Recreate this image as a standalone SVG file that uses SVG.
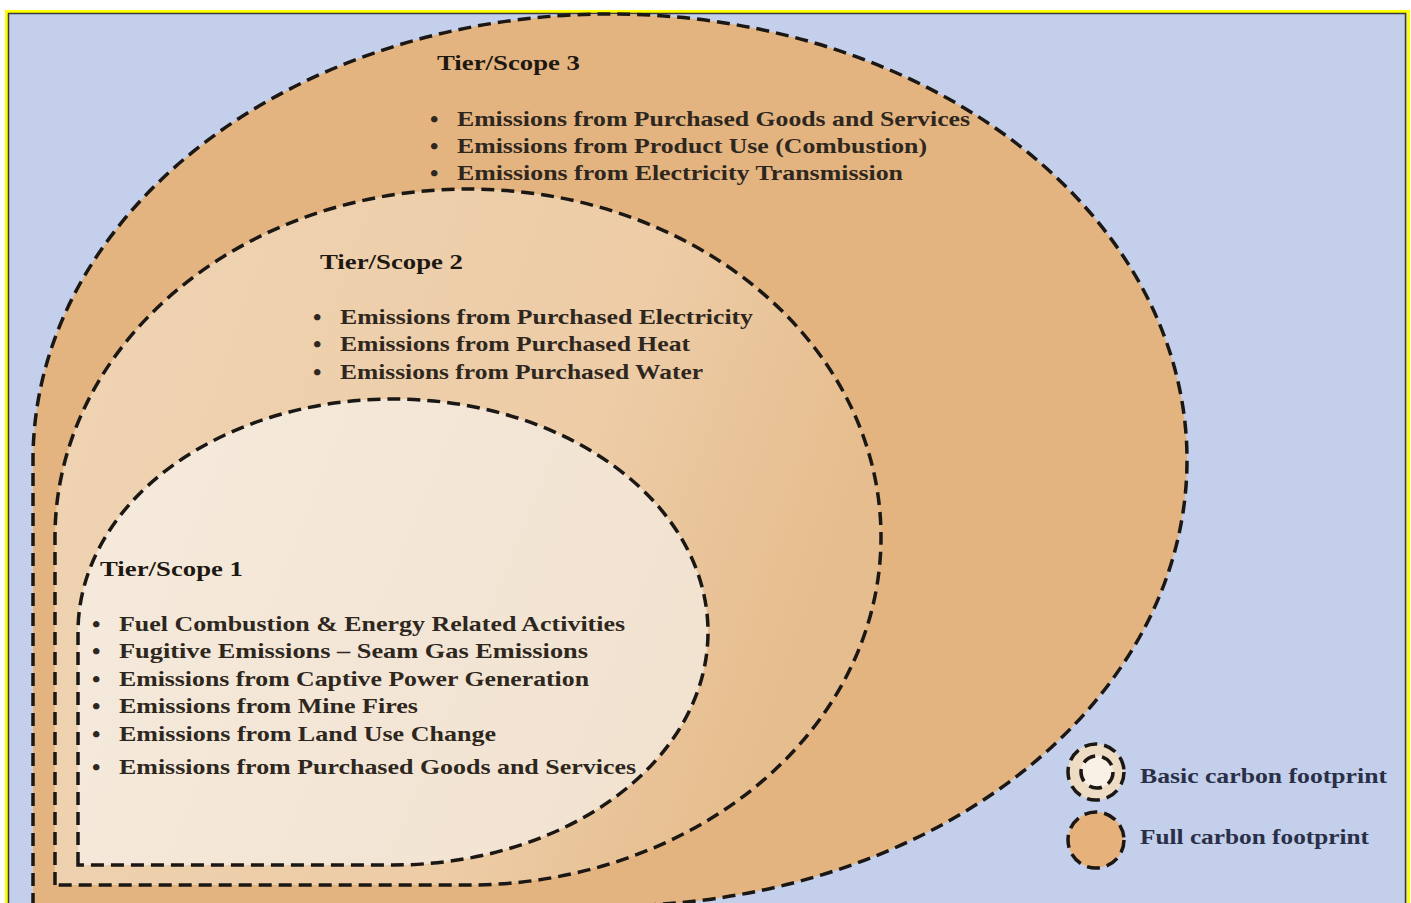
<svg xmlns="http://www.w3.org/2000/svg" width="1411" height="903" viewBox="0 0 1411 903">
<style>
.ring{stroke:#1a1714;stroke-width:3.5;stroke-dasharray:13 7;}
.t{font-family:"Liberation Serif","Times New Roman",serif;font-size:21px;fill:#2e2720;font-weight:bold;}
.h{font-family:"Liberation Serif","Times New Roman",serif;font-size:20px;fill:#1e1812;font-weight:bold;}
.b{font-family:"Liberation Serif","Times New Roman",serif;font-size:24px;fill:#2e2720;font-weight:bold;}
.lg{font-family:"Liberation Serif","Times New Roman",serif;font-size:21px;fill:#2a2f48;font-weight:bold;}
</style>
<defs>
<linearGradient id="g2" x1="0" y1="0" x2="1" y2="0.3">
<stop offset="0" stop-color="#EFD4B4"/>
<stop offset="0.7" stop-color="#EDCCA6"/>
<stop offset="1" stop-color="#E6BD8E"/>
</linearGradient>
<linearGradient id="g1" x1="0" y1="0" x2="1" y2="0.3">
<stop offset="0" stop-color="#F5EADD"/>
<stop offset="1" stop-color="#F2E3D1"/>
</linearGradient>
</defs>
<rect x="6.5" y="11.5" width="1402" height="900" fill="#C4CFEB" stroke="#FFFF00" stroke-width="3"/>
<rect x="8.5" y="13.5" width="1397" height="895" fill="none" stroke="#3a3a3a" stroke-width="1.5"/>

<g id="scope3">
<path class="ring" d="M33,906 L33,460 A577 446 0 1 1 610,906 Z" fill="#E3B47F"/>
<text class="h" x="437" y="70" textLength="143" lengthAdjust="spacingAndGlyphs">Tier/Scope 3</text>
<text class="b" x="430" y="127">•</text>
<text class="b" x="430" y="154">•</text>
<text class="b" x="430" y="181">•</text>
<text class="t" x="457" y="126" textLength="513" lengthAdjust="spacingAndGlyphs">Emissions from Purchased Goods and Services</text>
<text class="t" x="457" y="153" textLength="470" lengthAdjust="spacingAndGlyphs">Emissions from Product Use (Combustion)</text>
<text class="t" x="457" y="180" textLength="446" lengthAdjust="spacingAndGlyphs">Emissions from Electricity Transmission</text>
</g>

<g id="scope2">
<path class="ring" d="M55,885 L55,537 A413 348 0 1 1 468,885 Z" fill="url(#g2)"/>
<text class="h" x="320" y="269" textLength="143" lengthAdjust="spacingAndGlyphs">Tier/Scope 2</text>
<text class="b" x="313" y="325">•</text>
<text class="b" x="313" y="352">•</text>
<text class="b" x="313" y="380">•</text>
<text class="t" x="340" y="324" textLength="413" lengthAdjust="spacingAndGlyphs">Emissions from Purchased Electricity</text>
<text class="t" x="340" y="351" textLength="350" lengthAdjust="spacingAndGlyphs">Emissions from Purchased Heat</text>
<text class="t" x="340" y="379" textLength="363" lengthAdjust="spacingAndGlyphs">Emissions from Purchased Water</text>
</g>

<g id="scope1">
<path class="ring" d="M78,865 L78,632 A315 233 0 1 1 393,865 Z" fill="url(#g1)"/>
<text class="h" x="100" y="576" textLength="143" lengthAdjust="spacingAndGlyphs">Tier/Scope 1</text>
<text class="b" x="92" y="632">•</text>
<text class="b" x="92" y="659">•</text>
<text class="b" x="92" y="687">•</text>
<text class="b" x="92" y="714">•</text>
<text class="b" x="92" y="742">•</text>
<text class="b" x="92" y="775">•</text>
<text class="t" x="119" y="631" textLength="506" lengthAdjust="spacingAndGlyphs">Fuel Combustion &amp; Energy Related Activities</text>
<text class="t" x="119" y="658" textLength="469" lengthAdjust="spacingAndGlyphs">Fugitive Emissions – Seam Gas Emissions</text>
<text class="t" x="119" y="686" textLength="470" lengthAdjust="spacingAndGlyphs">Emissions from Captive Power Generation</text>
<text class="t" x="119" y="713" textLength="299" lengthAdjust="spacingAndGlyphs">Emissions from Mine Fires</text>
<text class="t" x="119" y="741" textLength="377" lengthAdjust="spacingAndGlyphs">Emissions from Land Use Change</text>
<text class="t" x="119" y="774" textLength="517" lengthAdjust="spacingAndGlyphs">Emissions from Purchased Goods and Services</text>
</g>

<g id="legend-basic">
<circle class="ring" cx="1096" cy="772" r="28" fill="#EFDCC4" stroke-dasharray="11 6"/>
<circle class="ring" cx="1097" cy="772" r="16" fill="#FAF1E6" stroke-dasharray="10 7"/>
<text class="lg" x="1140" y="783" textLength="247" lengthAdjust="spacingAndGlyphs">Basic carbon footprint</text>
</g>
<g id="legend-full">
<circle class="ring" cx="1096" cy="840" r="28" fill="#E6B17B" stroke-dasharray="11 6"/>
<text class="lg" x="1140" y="844" textLength="229" lengthAdjust="spacingAndGlyphs">Full carbon footprint</text>
</g>
</svg>
